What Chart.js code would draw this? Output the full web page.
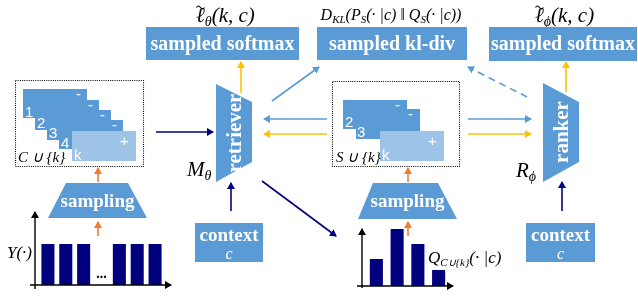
<!DOCTYPE html>
<html>
<head>
<meta charset="utf-8">
<script src="https://cdn.jsdelivr.net/npm/chart.js@4.4.1/dist/chart.umd.min.js"></script>
<style>
  html, body { margin: 0; padding: 0; background: #fff; }
  #wrap { position: relative; width: 638px; height: 296px; overflow: hidden; }
  canvas { position: absolute; }
  #leftBars { left: 0; top: 230px; }
  #rightBars { left: 340px; top: 220px; }
  svg { position: absolute; left: 0; top: 0; }
  .box { font-family: "Liberation Serif", serif; font-weight: bold; fill: #fff; }
  .math { font-family: "Liberation Serif", serif; font-style: italic; fill: #000; }
  .num { font-family: "Liberation Sans", sans-serif; fill: #fff; font-size: 15px; }
</style>
</head>
<body>
<div id="wrap">
  <canvas id="leftBars" width="180" height="60"></canvas>
  <canvas id="rightBars" width="130" height="70"></canvas>
  <svg width="638" height="296" viewBox="0 0 638 296">
    <defs>
      <marker id="mNavy" markerWidth="8" markerHeight="8" refX="6" refY="4" orient="auto" markerUnits="userSpaceOnUse"><path d="M0,0 L7,4 L0,8 z" fill="#00007f"/></marker>
      <marker id="mBlue" markerWidth="8" markerHeight="8" refX="6" refY="4" orient="auto" markerUnits="userSpaceOnUse"><path d="M0,0 L7,4 L0,8 z" fill="#5b9bd5"/></marker>
      <marker id="mGold" markerWidth="8" markerHeight="8" refX="6" refY="4" orient="auto" markerUnits="userSpaceOnUse"><path d="M0,0 L7,4 L0,8 z" fill="#ffc000"/></marker>
      <marker id="mOrange" markerWidth="8" markerHeight="8" refX="6" refY="4" orient="auto" markerUnits="userSpaceOnUse"><path d="M0,0 L7,4 L0,8 z" fill="#ed7d31"/></marker>
      <marker id="mBlack" markerWidth="8" markerHeight="8" refX="6" refY="4" orient="auto" markerUnits="userSpaceOnUse"><path d="M0,0 L7,4 L0,8 z" fill="#000"/></marker>
    </defs>

    <!-- loss labels (tilde drawn as a small wave above the ell) -->
    <text class="math" x="196" y="22" font-size="21">ℓ<tspan font-size="14" dy="4">θ</tspan><tspan dy="-4">(k, c)</tspan></text>
    <path d="M196.5,7.5 q2,-3 4,0 t4,0" fill="none" stroke="#000" stroke-width="1.2"/>
    <text class="math" x="391" y="20" font-size="16" text-anchor="middle">D<tspan font-size="11" dy="3">KL</tspan><tspan dy="-3">(P</tspan><tspan font-size="11" dy="3">S</tspan><tspan dy="-3">(· |c) ‖ Q</tspan><tspan font-size="11" dy="3">S</tspan><tspan dy="-3">(· |c))</tspan></text>
    <text class="math" x="535" y="22" font-size="21">ℓ<tspan font-size="14" dy="4">ϕ</tspan><tspan dy="-4">(k, c)</tspan></text>
    <path d="M535.5,7.5 q2,-3 4,0 t4,0" fill="none" stroke="#000" stroke-width="1.2"/>

    <!-- top boxes -->
    <rect x="146" y="27" width="153" height="33" fill="#5b9bd5"/>
    <text class="box" x="222.5" y="50" font-size="20" text-anchor="middle">sampled softmax</text>
    <rect x="317" y="27" width="150" height="33" fill="#5b9bd5"/>
    <text class="box" x="392" y="50" font-size="20" text-anchor="middle">sampled kl-div</text>
    <rect x="489" y="27" width="148" height="34" fill="#5b9bd5"/>
    <text class="box" x="563" y="50" font-size="20" text-anchor="middle">sampled softmax</text>

    <!-- left candidate set -->
    <rect x="15.5" y="80.5" width="128" height="86" fill="none" stroke="#000" stroke-width="1.1" stroke-dasharray="1,1.2"/>
    <rect x="23" y="89" width="64" height="29" fill="#5b9bd5"/>
    <rect x="35" y="100" width="64" height="30" fill="#5b9bd5"/>
    <rect x="47" y="110" width="64" height="30" fill="#5b9bd5"/>
    <rect x="59" y="120" width="64" height="29" fill="#5b9bd5"/>
    <rect x="72" y="131" width="64" height="30" fill="#9dc3e6"/>
    <text class="num" x="25" y="117" font-size="16">1</text>
    <text class="num" x="37" y="128" font-size="16">2</text>
    <text class="num" x="49" y="138" font-size="16">3</text>
    <text class="num" x="61" y="148" font-size="16">4</text>
    <text class="num" x="74" y="160" font-size="16">k</text>
    <text class="num" x="76" y="99">-</text>
    <text class="num" x="88" y="110">-</text>
    <text class="num" x="100" y="120">-</text>
    <text class="num" x="112" y="130">-</text>
    <text class="num" x="120" y="146" font-size="18">+</text>
    <text class="math" x="18" y="162" font-size="15">C ∪ {k}</text>

    <!-- middle candidate set -->
    <rect x="332.5" y="81.5" width="127" height="85" fill="none" stroke="#000" stroke-width="1.1" stroke-dasharray="1,1.2"/>
    <rect x="343" y="100" width="64" height="29" fill="#5b9bd5"/>
    <rect x="356" y="109" width="64" height="30" fill="#5b9bd5"/>
    <rect x="380" y="131" width="64" height="30" fill="#9dc3e6"/>
    <text class="num" x="345" y="127" font-size="16">2</text>
    <text class="num" x="357" y="137" font-size="16">3</text>
    <text class="num" x="382" y="160" font-size="16">k</text>
    <text class="num" x="395" y="110">-</text>
    <text class="num" x="408" y="119">-</text>
    <text class="num" x="428" y="146" font-size="18">+</text>
    <text class="math" x="336" y="162" font-size="15">S ∪ {k}</text>

    <!-- samplers -->
    <polygon points="66,183 128,183 147,218 48,218" fill="#5b9bd5"/>
    <text class="box" x="97.5" y="207" font-size="19" text-anchor="middle">sampling</text>
    <polygon points="373,183 438,183 457,219 358,219" fill="#5b9bd5"/>
    <text class="box" x="407.5" y="207" font-size="19" text-anchor="middle">sampling</text>

    <!-- retriever / ranker -->
    <polygon points="216,84 252,102 252,162 216,182" fill="#5b9bd5"/>
    <text class="box" x="234" y="133" font-size="21" text-anchor="middle" dominant-baseline="central" transform="rotate(-90 234 133)">retriever</text>
    <polygon points="543,83 579,102 579,162 543,182" fill="#5b9bd5"/>
    <text class="box" x="561" y="132" font-size="21" text-anchor="middle" dominant-baseline="central" transform="rotate(-90 561 132)">ranker</text>
    <text class="math" x="187" y="176" font-size="21">M<tspan font-size="14" dy="4">θ</tspan></text>
    <text class="math" x="516" y="177" font-size="21">R<tspan font-size="14" dy="4">ϕ</tspan></text>

    <!-- context boxes -->
    <rect x="195" y="223" width="68" height="39" fill="#5b9bd5"/>
    <text class="box" x="229" y="241" font-size="19" text-anchor="middle">context</text>
    <text class="math" x="229" y="259" font-size="16" text-anchor="middle" style="fill:#fff">c</text>
    <rect x="526" y="223" width="69" height="39" fill="#5b9bd5"/>
    <text class="box" x="560.5" y="241" font-size="19" text-anchor="middle">context</text>
    <text class="math" x="560.5" y="259" font-size="16" text-anchor="middle" style="fill:#fff">c</text>

    <!-- arrows -->
    <g stroke-width="1.6" fill="none">
      <line x1="156" y1="132" x2="213" y2="132" stroke="#00007f" marker-end="url(#mNavy)"/>
      <line x1="231" y1="211" x2="231" y2="183" stroke="#00007f" marker-end="url(#mNavy)"/>
      <line x1="562" y1="211" x2="562" y2="182" stroke="#00007f" marker-end="url(#mNavy)"/>
      <line x1="262" y1="181" x2="336" y2="236" stroke="#00007f" marker-end="url(#mNavy)"/>
      <line x1="241" y1="93" x2="241" y2="62" stroke="#ffc000" marker-end="url(#mGold)"/>
      <line x1="566" y1="92" x2="566" y2="62" stroke="#ffc000" marker-end="url(#mGold)"/>
      <line x1="272" y1="101" x2="319" y2="67" stroke="#5b9bd5" marker-end="url(#mBlue)"/>
      <line x1="527" y1="97" x2="468" y2="67" stroke="#5b9bd5" stroke-dasharray="7,5" marker-end="url(#mBlue)"/>
      <line x1="327" y1="119" x2="264" y2="119" stroke="#5b9bd5" marker-end="url(#mBlue)"/>
      <line x1="327" y1="134" x2="264" y2="134" stroke="#ffc000" marker-end="url(#mGold)"/>
      <line x1="468" y1="119" x2="531" y2="119" stroke="#5b9bd5" marker-end="url(#mBlue)"/>
      <line x1="468" y1="134" x2="531" y2="134" stroke="#ffc000" marker-end="url(#mGold)"/>
      <line x1="98" y1="182" x2="98" y2="168" stroke="#ed7d31" marker-end="url(#mOrange)"/>
      <line x1="98" y1="236" x2="98" y2="222" stroke="#ed7d31" marker-end="url(#mOrange)"/>
      <line x1="408" y1="182" x2="408" y2="168" stroke="#ed7d31" marker-end="url(#mOrange)"/>
      <line x1="408" y1="236" x2="408" y2="222" stroke="#ed7d31" marker-end="url(#mOrange)"/>
      <!-- chart axes -->
      <line x1="35" y1="289" x2="35" y2="212" stroke="#000" stroke-width="1.4" marker-end="url(#mBlack)"/>
      <line x1="30" y1="285" x2="171" y2="285" stroke="#000" stroke-width="1.4" marker-end="url(#mBlack)"/>
      <line x1="362" y1="288" x2="362" y2="229" stroke="#000" stroke-width="1.4" marker-end="url(#mBlack)"/>
      <line x1="357" y1="286" x2="453" y2="286" stroke="#000" stroke-width="1.4" marker-end="url(#mBlack)"/>
    </g>
    <text class="math" x="7" y="258" font-size="17">Y(·)</text>
    <text class="math" x="428" y="263" font-size="17">Q<tspan font-size="11" dy="3">C∪{k}</tspan><tspan dy="-3">(· |c)</tspan></text>
  </svg>
</div>

<script>
// Uniform prior Y(.) over the full item set (middle slot is the "..." gap)
const priorLabels = ['1', '2', '3', '...', 'n-2', 'n-1', 'n'];
const priorValues = [1, 1, 1, null, 1, 1, 1];

// Retriever distribution Q over the sampled set C u {k}
const qLabels = ['a', 'b', 'c', 'd'];
const qValues = [0.27, 0.57, 0.42, 0.16];

const navy = '#00007f';

// Draws the "..." marker in the empty slot of the prior chart
const gapLabel = {
    id: 'gapLabel',
    afterDatasetsDraw(chart) {
        const ctx = chart.ctx;
        const x = chart.scales.x.getPixelForValue(3);
        ctx.save();
        ctx.fillStyle = '#000';
        ctx.font = 'bold 14px "Liberation Serif", serif';
        ctx.textAlign = 'center';
        ctx.fillText('...', x, chart.chartArea.bottom - 7);
        ctx.restore();
    }
};

function barChart(id, labels, values, max, padding, barPct, plugins) {
    new Chart(document.getElementById(id), {
        type: 'bar',
        data: {
            labels: labels,
            datasets: [{
                data: values,
                backgroundColor: navy,
                borderWidth: 0,
                barPercentage: barPct,
                categoryPercentage: 1
            }]
        },
        options: {
            responsive: false,
            animation: false,
            devicePixelRatio: 1,
            layout: { padding: padding },
            plugins: { legend: { display: false }, tooltip: { enabled: false } },
            scales: {
                x: { display: false },
                y: { display: false, min: 0, max: max }
            }
        },
        plugins: plugins || []
    });
}

barChart('leftBars', priorLabels, priorValues, 1, { left: 39, right: 16, top: 14, bottom: 5 }, 0.73, [gapLabel]);
barChart('rightBars', qLabels, qValues, 0.6, { left: 26, right: 21, top: 6, bottom: 4 }, 0.63);
</script>
</body>
</html>
